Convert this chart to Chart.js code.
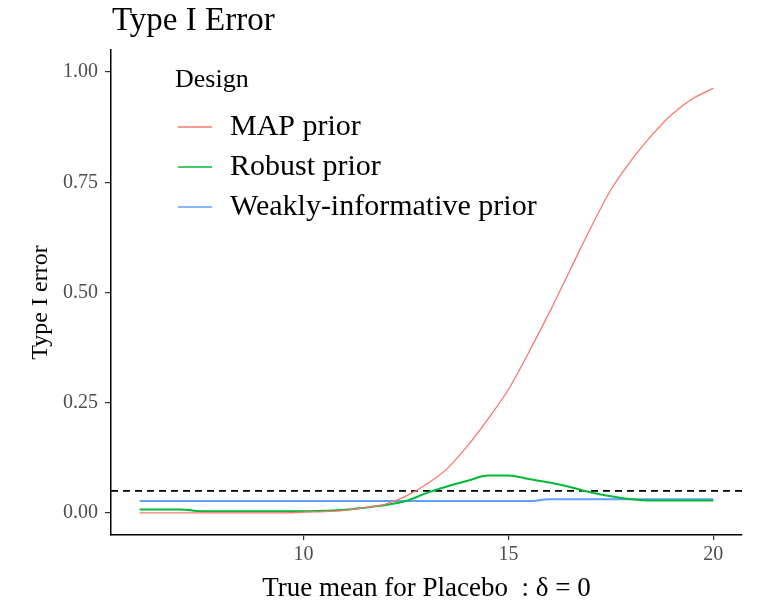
<!DOCTYPE html>
<html>
<head>
<meta charset="utf-8">
<script src="https://cdn.jsdelivr.net/npm/chart.js@4/dist/chart.umd.min.js"></script>
<style>
  html, body { margin: 0; padding: 0; background: #fff; }
  #wrap { position: relative; width: 757px; height: 604px; }
</style>
</head>
<body>
<div id="wrap"><canvas id="chart" width="757" height="604"></canvas></div>
<script>
// true placebo mean on the x axis
const placeboMean = [6, 6.5, 7, 7.5, 8, 8.5, 9, 9.5, 10, 10.5, 11, 11.5, 12, 12.5, 13,
  13.5, 14, 14.5, 15, 15.5, 16, 16.5, 17, 17.5, 18, 18.5, 19, 19.5, 20];

// type I error per design
const mapPrior = [0, 0, 0, 0, 0, 0, 0, 0, 0.002, 0.003, 0.006, 0.012, 0.02, 0.038, 0.065,
  0.10, 0.152, 0.213, 0.28, 0.365, 0.455, 0.55, 0.645, 0.733, 0.80, 0.857, 0.905, 0.94, 0.963];
const robustPrior = [0.008, 0.008, 0.008, 0.004, 0.004, 0.004, 0.004, 0.004, 0.004, 0.005, 0.007,
  0.012, 0.018, 0.027, 0.045, 0.06, 0.073, 0.085, 0.085, 0.077, 0.069, 0.059, 0.047, 0.038,
  0.031, 0.028, 0.028, 0.028, 0.028];
const weakPrior = [0.027, 0.027, 0.027, 0.027, 0.027, 0.027, 0.027, 0.027, 0.027, 0.027, 0.027,
  0.027, 0.027, 0.027, 0.027, 0.027, 0.027, 0.027, 0.027, 0.027, 0.031, 0.031, 0.031, 0.031,
  0.031, 0.031, 0.031, 0.031, 0.031];

const seriesNames = ['MAP prior', 'Robust prior', 'Weakly-informative prior'];
const seriesColors = ['#F8766D', '#00BA38', '#619CFF'];
const yTicks = [0, 0.25, 0.5, 0.75, 1];
const xTicks = [10, 15, 20];
const alphaLevel = 0.05;

const serif = '"Liberation Serif", "Times New Roman", serif';

function toPoints(ys) {
  return ys.map((y, i) => ({ x: placeboMean[i], y: y }));
}

// title, axis titles, reference line and legend box
const decorations = {
  id: 'decorations',
  beforeDatasetsDraw(chart) {
    const { ctx, chartArea, scales } = chart;
    const y = scales.y.getPixelForValue(alphaLevel);
    ctx.save();
    ctx.strokeStyle = '#000';
    ctx.lineWidth = 1.6;
    ctx.setLineDash([7, 5]);
    ctx.beginPath();
    ctx.moveTo(chartArea.left, y);
    ctx.lineTo(chartArea.right, y);
    ctx.stroke();
    ctx.restore();
  },
  afterDraw(chart) {
    const { ctx, chartArea } = chart;
    ctx.save();
    ctx.fillStyle = '#000';
    ctx.textBaseline = 'alphabetic';

    ctx.font = '33px ' + serif;
    ctx.textAlign = 'left';
    ctx.fillText('Type I Error', 112, 30);

    ctx.font = '27px ' + serif;
    ctx.textAlign = 'center';
    ctx.textBaseline = 'middle';
    ctx.fillText('True mean for Placebo  : \u03b4 = 0', (chartArea.left + chartArea.right) / 2, 589);

    ctx.save();
    ctx.translate(41, (chartArea.top + chartArea.bottom) / 2 + 10);
    ctx.rotate(-Math.PI / 2);
    ctx.font = '24px ' + serif;
    ctx.fillText('Type I error', 0, 0);
    ctx.restore();

    // legend
    ctx.textAlign = 'left';
    ctx.font = '26px ' + serif;
    ctx.fillText('Design', 175, 80);
    ctx.font = '30px ' + serif;
    seriesNames.forEach((name, i) => {
      const ly = 127 + i * 40;
      ctx.strokeStyle = seriesColors[i];
      ctx.lineWidth = 1.5;
      ctx.beginPath();
      ctx.moveTo(178, ly);
      ctx.lineTo(212, ly);
      ctx.stroke();
      ctx.fillStyle = '#000';
      ctx.fillText(name, 230, ly);
    });
    ctx.restore();
  }
};

const ctx = document.getElementById('chart').getContext('2d');
new Chart(ctx, {
  type: 'line',
  data: {
    datasets: [
      { label: seriesNames[0], data: toPoints(mapPrior), borderColor: seriesColors[0], borderWidth: 1.3 },
      { label: seriesNames[1], data: toPoints(robustPrior), borderColor: seriesColors[1], borderWidth: 2 },
      { label: seriesNames[2], data: toPoints(weakPrior), borderColor: seriesColors[2], borderWidth: 2 }
    ]
  },
  options: {
    responsive: false,
    animation: false,
    layout: { padding: { top: 50, right: 15, left: 0, bottom: 0 } },
    elements: { point: { radius: 0 }, line: { cubicInterpolationMode: 'monotone', fill: false } },
    plugins: {
      legend: { display: false },
      title: { display: false },
      tooltip: { enabled: false }
    },
    scales: {
      x: {
        type: 'linear',
        min: 5.3,
        max: 20.7,
        afterFit(scale) { scale.height = 69; },
        afterBuildTicks(scale) { scale.ticks = xTicks.map(v => ({ value: v })); },
        grid: { drawOnChartArea: false, drawTicks: true, tickLength: 5, color: '#333', lineWidth: 1.2 },
        border: { display: true, color: '#000', width: 1.5 },
        ticks: { color: '#4d4d4d', padding: 3, font: { family: serif, size: 20 }, maxRotation: 0 }
      },
      y: {
        min: -0.05,
        max: 1.05,
        afterFit(scale) { scale.width = 111; },
        afterBuildTicks(scale) { scale.ticks = yTicks.map(v => ({ value: v })); },
        grid: { drawOnChartArea: false, drawTicks: true, tickLength: 6, color: '#333', lineWidth: 1.2 },
        border: { display: true, color: '#000', width: 1.5 },
        ticks: {
          color: '#4d4d4d',
          padding: 7,
          font: { family: serif, size: 20 },
          callback: v => Number(v).toFixed(2)
        }
      }
    }
  },
  plugins: [decorations]
});
</script>
</body>
</html>
